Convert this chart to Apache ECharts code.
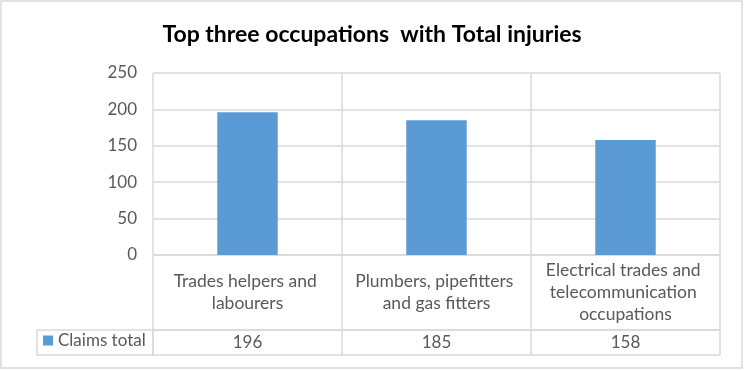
<!DOCTYPE html>
<html><head><meta charset="utf-8">
<script src="https://cdn.jsdelivr.net/npm/echarts@6/dist/echarts.min.js"></script>
<style>html,body{margin:0;padding:0;background:#fff}#c{width:744px;height:371px}</style>
</head><body><div id="c"></div>
<script>
const titleText = 'Top three occupations  with Total injuries';
const seriesName = 'Claims total';
const categories = ['Trades helpers and labourers', 'Plumbers, pipefitters and gas fitters', 'Electrical trades and telecommunication occupations'];
const claims = [196, 185, 158];
const yTicks = { min: 0, max: 250, interval: 50 };

const FONT = 'Lato, "Liberation Sans", sans-serif';
const GRAY = '#595959';
const LINE = '#d9d9d9';
const L = 153, R = 24;

const chart = echarts.init(document.getElementById('c'), null, { renderer: 'canvas' });
chart.setOption({
  animation: false,
  title: {
    text: titleText, left: 'center', top: 18,
    textStyle: { fontFamily: FONT, fontSize: 23, fontWeight: 'bold', color: '#000' }
  },
  legend: {
    data: [seriesName], left: 43, top: 332, icon: 'rect', itemWidth: 10, itemHeight: 10, itemGap: 4,
    textStyle: { fontFamily: FONT, fontSize: 17, color: GRAY }, padding: 0
  },
  grid: [
    { left: L, right: R, top: 73, bottom: 116 },
    { left: L, right: R, top: 255, bottom: 41 },
    { left: L, right: R, top: 330, bottom: 16 }
  ],
  xAxis: [
    { type: 'category', gridIndex: 0, data: categories,
      axisLine: { show: false }, axisTick: { show: false },
      splitLine: { show: true, interval: 0, lineStyle: { color: LINE, width: 1.5 } },
      axisLabel: { interval: 0, margin: 37, verticalAlign: 'middle', width: 168, overflow: 'break',
        fontFamily: FONT, fontSize: 17.5, lineHeight: 22, color: GRAY, align: 'center' } },
    { type: 'category', gridIndex: 1, data: categories,
      axisLine: { show: false }, axisTick: { show: false }, axisLabel: { show: false },
      splitLine: { show: true, interval: 0, lineStyle: { color: LINE, width: 1.5 } } },
    { type: 'category', gridIndex: 2, data: categories,
      axisLine: { show: false }, axisTick: { show: false },
      splitLine: { show: true, interval: 0, lineStyle: { color: LINE, width: 1.5 } },
      axisLabel: { inside: true, interval: 0, margin: 12, verticalAlign: 'middle',
        fontFamily: FONT, fontSize: 17, color: GRAY,
        formatter: (v, i) => String(claims[i]) } }
  ],
  yAxis: [
    { type: 'value', gridIndex: 0, min: yTicks.min, max: yTicks.max, interval: yTicks.interval,
      axisLine: { show: false }, axisTick: { show: false },
      splitLine: { show: true, lineStyle: { color: LINE, width: 1.5 } },
      axisLabel: { margin: 16, fontFamily: FONT, fontSize: 17, color: GRAY } },
    { type: 'value', gridIndex: 1, min: 0, max: 1, interval: 1,
      axisLine: { show: false }, axisTick: { show: false }, axisLabel: { show: false },
      splitLine: { show: true, lineStyle: { color: LINE, width: 1.5 } } },
    { type: 'value', gridIndex: 2, min: 0, max: 1, interval: 1,
      axisLine: { show: false }, axisTick: { show: false }, axisLabel: { show: false },
      splitLine: { show: true, lineStyle: { color: LINE, width: 1.5 } } }
  ],
  series: [
    { name: seriesName, type: 'bar', xAxisIndex: 0, yAxisIndex: 0, data: claims,
      barWidth: '32%', itemStyle: { color: '#5b9bd5' } }
  ],
  graphic: [
    { type: 'rect', shape: { x: 1, y: 1, width: 741, height: 367 },
      style: { fill: 'none', stroke: LINE, lineWidth: 1.5 }, silent: true },
    { type: 'rect', shape: { x: 37, y: 330, width: L - 37, height: 25 },
      style: { fill: 'none', stroke: LINE, lineWidth: 1.5 }, silent: true }
  ]
});
</script></body></html>
